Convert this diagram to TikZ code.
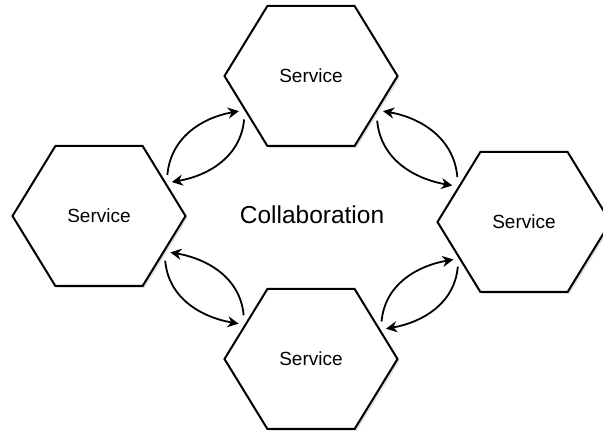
\documentclass[tikz,border=0pt]{standalone}
\usepackage{fontspec}
\setmainfont{Liberation Sans}
\usetikzlibrary{shapes.symbols, arrows.meta, shadows}

\begin{document}
\begin{tikzpicture}[
      x=1pt, y=1pt,
      font=\fontsize{19}{23}\selectfont,
      service/.style={signal, signal to=east and west, signal pointer angle=117, draw, line width=2pt, fill=white, minimum width=173pt, minimum height=140pt, inner sep=0pt, outer sep=6pt, drop shadow={shadow xshift=2pt, shadow yshift=-2pt, opacity=0.25}},
      arrow/.style={line width=1.8pt, -{Stealth[length=11pt, width=11pt, inset=3.5pt]}}
    ]
      \useasboundingbox (0,0) rectangle (603,434);

      \node (top) [service] at (311,358) {Service};
      \node (left) [service] at (99,218) {Service};
      \node (right) [service] at (524,212) {Service};
      \node (bottom) [service] at (311,75) {Service};
      \node (collab) at (312,219.5) {\fontsize{24.5}{29}\selectfont Collaboration};

      \draw [arrow] (left.31) to[out=85,in=190] (top.206);
      \draw [arrow] (top.213) to[out=265,in=10] (left.25);
      \draw [arrow] (right.146) to[out=95,in=350] (top.334);
      \draw [arrow] (top.326) to[out=275,in=170] (right.153);
      \draw [arrow] (bottom.147) to[out=95,in=350] (left.333);
      \draw [arrow] (left.326) to[out=275,in=170] (bottom.154);
      \draw [arrow] (bottom.28) to[out=85,in=190] (right.208);
      \draw [arrow] (right.214) to[out=265,in=10] (bottom.22);
    \end{tikzpicture}
\end{document}
